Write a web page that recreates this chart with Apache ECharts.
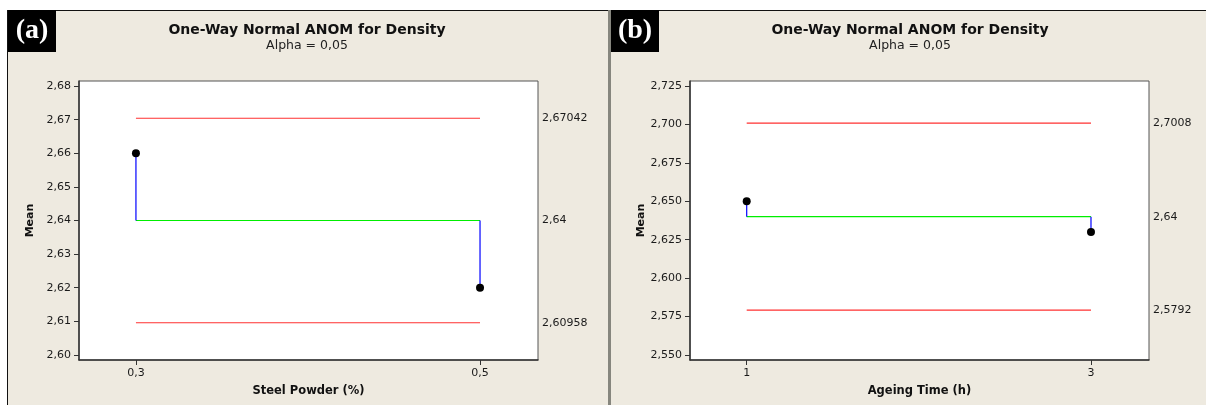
<!DOCTYPE html>
<html>
<head>
<meta charset="utf-8">
<script src="https://cdn.jsdelivr.net/npm/echarts@6/dist/echarts.min.js"></script>
<style>
html,body{margin:0;padding:0;background:#fff;}
#c{width:1206px;height:405px;}
</style>
</head>
<body>
<div id="c"></div>
<script>
// Panel (a): Steel Powder
const catsA = [0.3, 0.5];
const meansA = [2.66, 2.62];
const centerA = 2.64;
const udlA = 2.67042;
const ldlA = 2.60958;
const yTicksA = [2.60, 2.61, 2.62, 2.63, 2.64, 2.65, 2.66, 2.67, 2.68];

// Panel (b): Ageing Time
const catsB = [1, 3];
const meansB = [2.65, 2.63];
const centerB = 2.64;
const udlB = 2.7008;
const ldlB = 2.5792;
const yTicksB = [2.550, 2.575, 2.600, 2.625, 2.650, 2.675, 2.700, 2.725];

const FONT = 'DejaVu Sans';
const BG = '#eeeae0';
const comma = s => String(s).replace('.', ',');

function panelSeries(idx, cats, means, center, udl, ldl) {
  const ax = {xAxisIndex: idx, yAxisIndex: idx * 2};
  const vert = [];
  cats.forEach((c, i) => {
    if (i > 0) vert.push('-');
    vert.push([c, center]);
    vert.push([c, means[i]]);
  });
  const line = (data, color, z) => Object.assign({
    type: 'line', data: data, symbol: 'none', silent: true, z: z,
    lineStyle: {color: color, width: 1.2}, connectNulls: false, animation: false
  }, ax);
  return [
    line([[cats[0], udl], [cats[cats.length - 1], udl]], '#ff3030', 2),
    line([[cats[0], ldl], [cats[cats.length - 1], ldl]], '#ff3030', 2),
    line([[cats[0], center], [cats[cats.length - 1], center]], '#00ee00', 2),
    line(vert, '#0000ff', 3),
    Object.assign({
      type: 'scatter', data: cats.map((c, i) => [c, means[i]]),
      symbolSize: 8, itemStyle: {color: '#000', opacity: 1}, z: 5, animation: false
    }, ax)
  ];
}

function xAxis(idx, min, max, cats, name) {
  return {
    type: 'value', gridIndex: idx, min: min, max: max,
    name: name, nameLocation: 'middle', nameGap: 25,
    nameTextStyle: {fontFamily: FONT, fontWeight: 'bold', fontSize: 11.5, color: '#111'},
    axisLine: {show: true, lineStyle: {color: '#333', width: 1.5}},
    axisTick: {show: true, length: 5, customValues: cats, lineStyle: {color: '#333'}},
    axisLabel: {customValues: cats, margin: 8, fontFamily: FONT, fontSize: 11, color: '#1a1a1a',
      formatter: v => comma(v)},
    splitLine: {show: false}
  };
}

function yAxisL(idx, min, max, ticks, dec) {
  return {
    type: 'value', gridIndex: idx, min: min, max: max, position: 'left',
    name: 'Mean', nameLocation: 'middle', nameGap: 43,
    nameTextStyle: {fontFamily: FONT, fontWeight: 'bold', fontSize: 11, color: '#111'},
    axisLine: {show: true, lineStyle: {color: '#333', width: 1.5}},
    axisTick: {show: true, length: 5, customValues: ticks, lineStyle: {color: '#333'}},
    axisLabel: {customValues: ticks, margin: 8, fontFamily: FONT, fontSize: 11, color: '#1a1a1a',
      formatter: v => v.toFixed(dec).replace('.', ',')},
    splitLine: {show: false}
  };
}

function yAxisR(idx, min, max, vals) {
  return {
    type: 'value', gridIndex: idx, min: min, max: max, position: 'right',
    axisLine: {show: false}, axisTick: {show: false}, splitLine: {show: false},
    axisLabel: {customValues: vals, margin: 4, fontFamily: FONT, fontSize: 11, color: '#1a1a1a',
      formatter: v => comma(v)}
  };
}

function panelTitle(cx, label, x0) {
  return [
    {type: 'rect', left: x0, top: 10, shape: {width: 48, height: 42}, style: {fill: '#000'}},
    {type: 'text', x: x0 + 24, y: 31, style: {text: label, fill: '#fff', align: 'center', verticalAlign: 'middle',
      font: 'bold 28px "Liberation Serif", "DejaVu Serif", serif'}},
    {type: 'text', x: cx, y: 30, style: {text: 'One-Way Normal ANOM for Density', fill: '#111', align: 'center',
      verticalAlign: 'middle', font: 'bold 14px "DejaVu Sans"'}},
    {type: 'text', x: cx, y: 46, style: {text: 'Alpha = 0,05', fill: '#222', align: 'center',
      verticalAlign: 'middle', font: '12.5px "DejaVu Sans"'}}
  ];
}

const chart = echarts.init(document.getElementById('c'), null, {renderer: 'canvas'});
chart.setOption({
  backgroundColor: BG,
  animation: false,
  graphic: [
    {type: 'rect', left: 0, top: 0, shape: {width: 1206, height: 10}, style: {fill: '#fff'}},
    {type: 'rect', left: 0, top: 0, shape: {width: 7, height: 405}, style: {fill: '#fff'}},
    {type: 'rect', left: 7, top: 10, shape: {width: 1199, height: 1}, style: {fill: '#111'}},
    {type: 'rect', left: 7, top: 10, shape: {width: 1, height: 395}, style: {fill: '#111'}},
    {type: 'rect', left: 608, top: 10, shape: {width: 3, height: 395}, style: {fill: '#86867e'}}
  ].concat(panelTitle(307, '(a)', 8), panelTitle(910, '(b)', 611)),
  grid: [
    {left: 79, top: 81, width: 459, height: 279, show: true, backgroundColor: '#fff', borderColor: '#555', borderWidth: 1},
    {left: 690, top: 81, width: 459, height: 279, show: true, backgroundColor: '#fff', borderColor: '#555', borderWidth: 1}
  ],
  xAxis: [
    xAxis(0, 0.2669, 0.5337, catsA, 'Steel Powder (%)'),
    xAxis(1, 0.6706, 3.337, catsB, 'Ageing Time (h)')
  ],
  yAxis: [
    yAxisL(0, 2.5985, 2.6815, yTicksA, 2),
    yAxisR(0, 2.5985, 2.6815, [ldlA, centerA, udlA]),
    yAxisL(1, 2.54675, 2.72825, yTicksB, 3),
    yAxisR(1, 2.54675, 2.72825, [ldlB, centerB, udlB])
  ],
  series: panelSeries(0, catsA, meansA, centerA, udlA, ldlA)
    .concat(panelSeries(1, catsB, meansB, centerB, udlB, ldlB))
});
</script>
</body>
</html>
